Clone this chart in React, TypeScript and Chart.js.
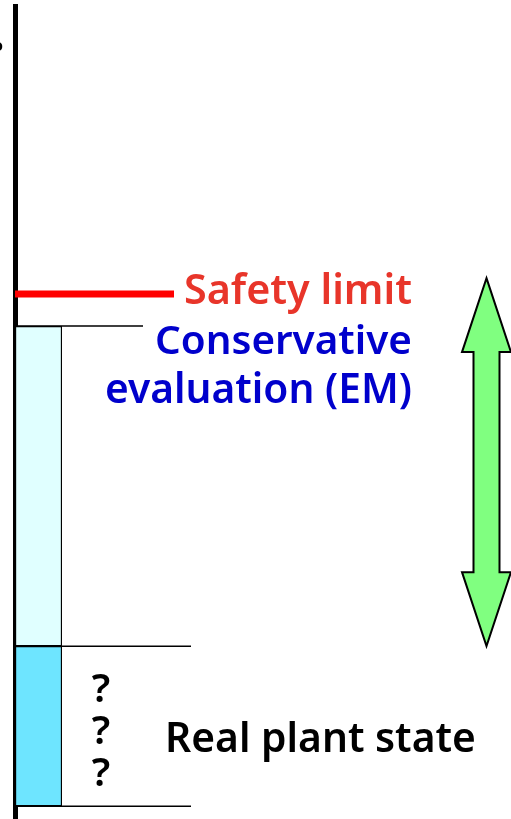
import { useEffect, useRef } from "react";
import { Chart, registerables } from "chart.js";

Chart.register(...registerables);

// ---- data (arbitrary units, 0 = bottom of the real plant state bar) ----
const categories = ["EM"];
const realPlantState: [number, number][] = [[0, 5]];
const conservativeEvaluation: [number, number][] = [[5, 15]];
const safetyLimit = 16;
const marginArrow: [number, number] = [16.5, 5];
const axisRange: [number, number] = [-0.4, 25];

const labelSafety = "Safety limit";
const labelConservative = ["Conservative", "evaluation (EM)"];
const labelReal = "Real plant state";
const unknownMarks = ["?", "?", "?"];

const FONT = "'Noto Sans', sans-serif";
const WEIGHT = "600";

function fitFont(ctx: CanvasRenderingContext2D, text: string, width: number, weight = WEIGHT) {
  ctx.font = `${weight} 40px ${FONT}`;
  const w = ctx.measureText(text).width;
  const size = (40 * width) / w;
  ctx.font = `${weight} ${size}px ${FONT}`;
  return size;
}

const annotationPlugin = {
  id: "annotations",
  afterDraw(chart: any) {
    const ctx: CanvasRenderingContext2D = chart.ctx;
    const y = chart.scales.y;
    const area = chart.chartArea;
    const py = (v: number) => y.getPixelForValue(v);
    ctx.save();

    // leader lines
    ctx.strokeStyle = "#000";
    ctx.lineWidth = 1.5;
    const top = py(conservativeEvaluation[0][1]);
    const mid = py(realPlantState[0][1]);
    const base = py(realPlantState[0][0]);
    ctx.beginPath();
    ctx.moveTo(area.left, top);
    ctx.lineTo(143, top);
    ctx.moveTo(area.left, mid);
    ctx.lineTo(191, mid);
    ctx.moveTo(area.left, base);
    ctx.lineTo(191, base);
    ctx.stroke();

    // safety limit line
    ctx.strokeStyle = "#ff0000";
    ctx.lineWidth = 7;
    ctx.beginPath();
    ctx.moveTo(area.left, py(safetyLimit));
    ctx.lineTo(174, py(safetyLimit));
    ctx.stroke();

    // texts
    ctx.textAlign = "left";
    ctx.textBaseline = "alphabetic";
    const ys = py(safetyLimit);
    ctx.fillStyle = "#e8352a";
    fitFont(ctx, labelSafety, 228);
    ctx.fillText(labelSafety, 184, ys + 10);

    ctx.fillStyle = "#0000cc";
    fitFont(ctx, labelConservative[0], 257);
    ctx.fillText(labelConservative[0], 155, top + 28);
    fitFont(ctx, labelConservative[1], 307);
    ctx.fillText(labelConservative[1], 105, top + 77);

    ctx.fillStyle = "#000";
    fitFont(ctx, labelReal, 311);
    ctx.fillText(labelReal, 165, mid + 106);

    ctx.font = `${WEIGHT} 40px ${FONT}`;
    ctx.textAlign = "center";
    unknownMarks.forEach((m, i) => {
      ctx.fillText(m, 101, mid + 56 + i * 42);
    });

    // clipped mark at top-left
    ctx.font = `bold 16px ${FONT}`;
    ctx.textAlign = "left";
    ctx.fillText("o", -7, 51);

    // green double arrow
    const cx = 486.5;
    const yTop = py(marginArrow[0]);
    const yBot = py(marginArrow[1]);
    const headLen = 74;
    const headHalf = 24.5;
    const shaftHalf = 13;
    ctx.beginPath();
    ctx.moveTo(cx, yTop);
    ctx.lineTo(cx + headHalf, yTop + headLen);
    ctx.lineTo(cx + shaftHalf, yTop + headLen);
    ctx.lineTo(cx + shaftHalf, yBot - headLen);
    ctx.lineTo(cx + headHalf, yBot - headLen);
    ctx.lineTo(cx, yBot);
    ctx.lineTo(cx - headHalf, yBot - headLen);
    ctx.lineTo(cx - shaftHalf, yBot - headLen);
    ctx.lineTo(cx - shaftHalf, yTop + headLen);
    ctx.lineTo(cx - headHalf, yTop + headLen);
    ctx.closePath();
    ctx.fillStyle = "#80ff80";
    ctx.fill();
    ctx.strokeStyle = "#000";
    ctx.lineWidth = 2;
    ctx.lineJoin = "miter";
    ctx.stroke();

    ctx.restore();
  },
};

export default function App() {
  const ref = useRef<HTMLCanvasElement | null>(null);
  useEffect(() => {
    document.body.style.margin = "0";
    const canvas = ref.current!;
    const chart = new Chart(canvas, {
      type: "bar",
      data: {
        labels: categories,
        datasets: [
          {
            label: "Real plant state",
            data: realPlantState as any,
            backgroundColor: "#6ee5ff",
            borderColor: "#000",
            borderWidth: 1.5,
            borderSkipped: false,
            barPercentage: 1,
            categoryPercentage: 1,
          },
          {
            label: "Conservative evaluation (EM)",
            data: conservativeEvaluation as any,
            backgroundColor: "#e0ffff",
            borderColor: "#000",
            borderWidth: 1.5,
            borderSkipped: false,
            barPercentage: 1,
            categoryPercentage: 1,
          },
        ],
      },
      options: {
        animation: false,
        responsive: false,
        devicePixelRatio: 1,
        layout: { padding: { left: 7, right: 449, top: 6, bottom: 0 } },
        plugins: { legend: { display: false }, tooltip: { enabled: false } },
        scales: {
          x: { display: false, stacked: true },
          y: {
            min: axisRange[0],
            max: axisRange[1],
            stacked: false,
            z: 1,
            grid: { display: false },
            ticks: { display: false },
            border: { display: true, color: "#000", width: 5 },
          },
        },
      },
      plugins: [annotationPlugin],
    });
    return () => chart.destroy();
  }, []);
  return (
    <div style={{ width: 511, height: 819 }}>
      <canvas ref={ref} width={511} height={819} style={{ display: "block", width: 511, height: 819 }} />
    </div>
  );
}
